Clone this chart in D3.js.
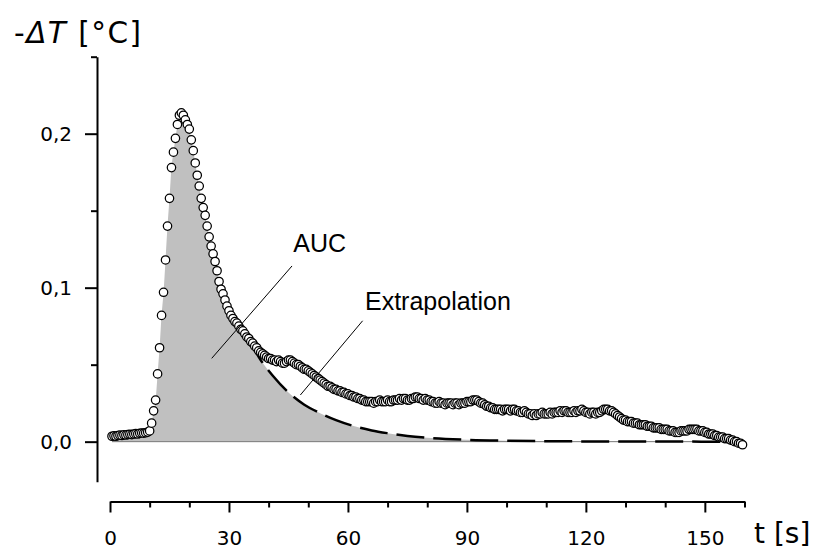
<!DOCTYPE html>
<html><head><meta charset="utf-8">
<script src="https://cdn.jsdelivr.net/npm/d3@7"></script>
<style>body{margin:0;background:#fff} svg{display:block}</style>
</head><body>
<svg id="c" width="814" height="551"></svg>
<script>
// ---- data ----
const sampleStart = 0.5;   // s, first sample time
const sampleStep = 0.5;    // s, sampling interval
const dTvalues = [
  0.0035,0.0038,0.0035,0.0040,0.0042,0.0040,0.0045,0.0043,0.0046,0.0048,
  0.0046,0.0050,0.0052,0.0050,0.0054,0.0056,0.0055,0.0058,0.0062,0.0070,
  0.012,0.020,0.027,0.044,0.061,0.082,0.097,0.118,0.140,0.158,
  0.178,0.188,0.197,0.206,0.212,0.2135,0.212,0.209,0.206,0.203,
  0.196,0.189,0.181,0.173,0.166,0.158,0.152,0.147,0.140,0.133,
  0.127,0.122,0.117,0.111,0.104,0.099,0.096,0.092,0.088,0.085,
  0.082,0.080,0.078,0.077,0.075,0.073,0.072,0.070,0.068,0.067,
  0.065,0.064,0.062,0.061,0.059,0.058,0.057,0.056,0.055,0.054,
  0.054,0.053,0.053,0.052,0.053,0.052,0.051,0.051,0.052,0.053,
  0.053,0.052,0.051,0.050,0.050,0.049,0.048,0.047,0.047,0.046,
  0.045,0.044,0.043,0.042,0.041,0.040,0.039,0.038,0.037,0.036,
  0.036,0.035,0.034,0.034,0.033,0.033,0.032,0.032,0.031,0.031,
  0.030,0.030,0.029,0.029,0.028,0.028,0.027,0.027,0.026,0.026,
  0.026,0.026,0.025,0.026,0.026,0.027,0.026,0.026,0.026,0.027,
  0.026,0.026,0.027,0.027,0.027,0.028,0.027,0.028,0.028,0.027,
  0.027,0.028,0.028,0.029,0.029,0.028,0.028,0.027,0.028,0.027,
  0.027,0.026,0.026,0.025,0.025,0.026,0.025,0.025,0.024,0.025,
  0.025,0.025,0.024,0.025,0.025,0.024,0.025,0.025,0.025,0.026,
  0.026,0.026,0.027,0.027,0.027,0.026,0.025,0.025,0.024,0.023,
  0.023,0.022,0.022,0.021,0.021,0.021,0.021,0.020,0.021,0.021,
  0.021,0.020,0.021,0.021,0.020,0.020,0.019,0.019,0.020,0.019,
  0.018,0.018,0.017,0.018,0.017,0.018,0.018,0.019,0.018,0.018,
  0.018,0.019,0.018,0.019,0.019,0.019,0.020,0.019,0.020,0.020,
  0.019,0.019,0.019,0.020,0.019,0.020,0.020,0.021,0.020,0.019,
  0.019,0.018,0.019,0.019,0.018,0.019,0.019,0.020,0.021,0.021,
  0.021,0.020,0.020,0.019,0.018,0.017,0.016,0.015,0.014,0.014,
  0.013,0.013,0.013,0.012,0.012,0.012,0.011,0.011,0.011,0.011,
  0.010,0.010,0.010,0.009,0.009,0.009,0.009,0.008,0.008,0.008,
  0.008,0.007,0.007,0.007,0.006,0.006,0.006,0.007,0.007,0.007,
  0.007,0.008,0.008,0.008,0.008,0.008,0.007,0.007,0.007,0.006,
  0.006,0.005,0.005,0.005,0.004,0.004,0.003,0.003,0.003,0.002,
  0.002,0.002,0.001,0.001,0.000,0.000,-0.001,-0.001,-0.002
];
const extrapT = [33, 35, 38, 41, 45, 49, 53, 57, 61, 66, 70, 75, 80, 90, 100, 110, 120, 140, 160];
const extrapV = [0.073, 0.066, 0.053, 0.043, 0.032, 0.024, 0.0185, 0.014, 0.0105, 0.0073, 0.0055, 0.0037, 0.0025, 0.0012, 0.0006, 0.0003, 0.00015, 0.00005, 0];
const aucSplitT = 33;
const xMajorTicks = [0, 30, 60, 90, 120, 150];
const xMinorTicks = [10, 20, 40, 50, 70, 80, 100, 110, 130, 140, 160];
const yMajorTicks = [0, 0.1, 0.2];
const yMajorLabels = ["0,0", "0,1", "0,2"];
const yMinorTicks = [0.05, 0.15, 0.25];
const annotations = [
  {text: "AUC", tx: 46.2, tv: 0.1233, line: [[45.9, 0.1141], [25.65, 0.0541]]},
  {text: "Extrapolation", tx: 64.3, tv: 0.0858, line: [[63.7, 0.0785], [48.0, 0.0303]]}
];

// ---- scales ----
const svg = d3.select("#c");
const x = d3.scaleLinear().domain([0, 160]).range([110, 744.5]);
const y = d3.scaleLinear().domain([-0.026, 0.25]).range([481.7, 56.7]);

const data = dTvalues.map((v, i) => ({t: sampleStart + i * sampleStep, v}));
const extrap = extrapT.map((t, i) => ({t, v: extrapV[i]}));
const aucPts = data.filter(d => d.t <= aucSplitT).concat(extrap.filter(d => d.t > aucSplitT));

// AUC fill
svg.append("path")
  .datum(aucPts)
  .attr("fill", "#c0c0c0")
  .attr("d", d3.area().x(d => x(d.t)).y0(y(0)).y1(d => y(d.v)).curve(d3.curveMonotoneX));

// baseline
svg.append("line")
  .attr("x1", x(sampleStart)).attr("x2", x(160))
  .attr("y1", y(0)).attr("y2", y(0))
  .attr("stroke", "#7a7a7a").attr("stroke-width", 1);

// extrapolation dashed
svg.append("path")
  .datum(extrap)
  .attr("fill", "none").attr("stroke", "#000").attr("stroke-width", 2.5)
  .attr("stroke-dasharray", "40,9,28,9,28,9,28,9,28,9,28,9,28,9,28,9,28,9,28,9,28,9,28,9,28,9,28,9,28,9")
  .attr("d", d3.line().x(d => x(d.t)).y(d => y(d.v)).curve(d3.curveMonotoneX));

// circles
svg.append("g").selectAll("circle").data(data).join("circle")
  .attr("cx", d => x(d.t)).attr("cy", d => y(d.v)).attr("r", 4.2)
  .attr("fill", "#fff").attr("stroke", "#000").attr("stroke-width", 1.25);

// annotations
annotations.forEach(a => {
  svg.append("line")
    .attr("x1", x(a.line[0][0])).attr("y1", y(a.line[0][1]))
    .attr("x2", x(a.line[1][0])).attr("y2", y(a.line[1][1]))
    .attr("stroke", "#000").attr("stroke-width", 1);
  svg.append("text").attr("x", x(a.tx)).attr("y", y(a.tv))
    .attr("font-family", "'Liberation Sans', Arial, sans-serif").attr("font-size", 25)
    .attr("fill", "#000").text(a.text);
});

// x axis
const gx = svg.append("g").attr("transform", `translate(0,501.5)`);
gx.call(d3.axisBottom(x).tickValues(xMajorTicks).tickSize(11).tickSizeOuter(0).tickFormat(d => d));
const gxm = svg.append("g").attr("transform", `translate(0,501.5)`);
gxm.call(d3.axisBottom(x).tickValues(xMinorTicks).tickSize(6).tickSizeOuter(0).tickFormat(""));
gxm.select(".domain").remove();
[gx, gxm].forEach(g => {
  g.selectAll("path,line").attr("stroke", "#000").attr("stroke-width", 2);
});
gx.selectAll("text").attr("y", 43.5).attr("dy", 0)
  .attr("font-family", "'DejaVu Sans', Verdana, sans-serif").attr("font-size", 20).attr("fill", "#000");

// y axis
const gy = svg.append("g").attr("transform", `translate(97,0)`);
gy.call(d3.axisLeft(y).tickValues(yMajorTicks).tickSize(12).tickSizeOuter(0).tickPadding(13)
  .tickFormat((d, i) => yMajorLabels[i]));
const gym = svg.append("g").attr("transform", `translate(97,0)`);
gym.call(d3.axisLeft(y).tickValues(yMinorTicks).tickSize(6).tickSizeOuter(0).tickFormat(""));
gym.select(".domain").remove();
[gy, gym].forEach(g => {
  g.selectAll("path,line").attr("stroke", "#000").attr("stroke-width", 2);
});
gy.selectAll("text").attr("dy", "0.36em")
  .attr("font-family", "'DejaVu Sans', Verdana, sans-serif").attr("font-size", 20).attr("fill", "#000");

// axis titles
const yt = svg.append("text").attr("x", 14).attr("y", 43)
  .attr("font-family", "'DejaVu Sans', Verdana, sans-serif").attr("font-size", 29.5).attr("fill", "#000")
  .attr("letter-spacing", 1.5);
yt.append("tspan").text("-");
yt.append("tspan").attr("font-style", "italic").text("ΔT");
yt.append("tspan").text(" [°C]");

svg.append("text").attr("x", 754).attr("y", 543)
  .attr("font-family", "'DejaVu Sans', Verdana, sans-serif").attr("font-size", 28).attr("fill", "#000")
  .text("t [s]");
</script>
</body></html>
